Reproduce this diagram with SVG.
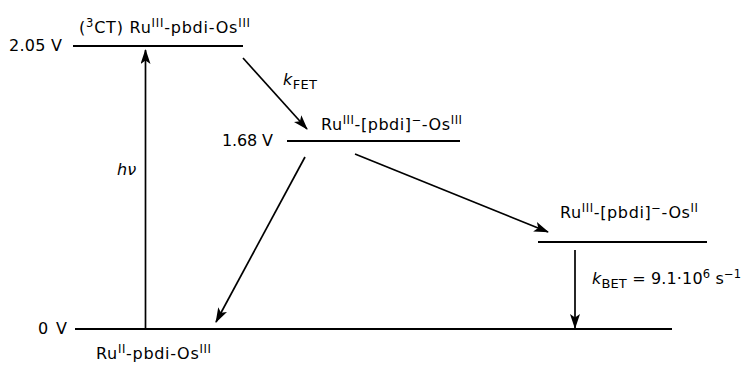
<svg xmlns="http://www.w3.org/2000/svg" width="745" height="368" viewBox="0 0 745 368">
<style>
.t{font-family:"DejaVu Sans","Liberation Sans",sans-serif;font-size:16px;fill:#000}
.s{font-size:11.5px}
.b{font-size:13px}
.i{font-style:italic}
.lv{stroke:#000;stroke-width:2;fill:none}
.ar{stroke:#000;stroke-width:1.7;fill:none;marker-end:url(#ah)}
</style>
<defs>
<marker id="ah" viewBox="0 0 15 10" refX="14" refY="5" markerWidth="15" markerHeight="10" markerUnits="userSpaceOnUse" orient="auto">
<path d="M0,0 L15,5 L0,10 L3.5,5 Z" fill="#000"/>
</marker>
</defs>
<g id="level-ct">
<line class="lv" x1="73" y1="46" x2="243" y2="46"/>
<text class="t" x="9" y="51" textLength="53" lengthAdjust="spacing">2.05 V</text>
<text class="t" x="79" y="33" textLength="171" lengthAdjust="spacing">(<tspan class="s" dy="-6">3</tspan><tspan dy="6">CT) Ru</tspan><tspan class="s" dy="-6">III</tspan><tspan dy="6">-pbdi-Os</tspan><tspan class="s" dy="-6">III</tspan></text>
</g>
<g id="level-mid">
<line class="lv" x1="287" y1="141" x2="460" y2="141"/>
<text class="t" x="222" y="146" textLength="51" lengthAdjust="spacing">1.68 V</text>
<text class="t" x="321" y="130" textLength="141" lengthAdjust="spacing">Ru<tspan class="s" dy="-6">III</tspan><tspan dy="6">-[pbdi]</tspan><tspan class="s" dy="-6">−</tspan><tspan dy="6">-Os</tspan><tspan class="s" dy="-6">III</tspan></text>
</g>
<g id="level-cs">
<line class="lv" x1="538" y1="242" x2="707" y2="242"/>
<text class="t" x="560" y="218" textLength="138" lengthAdjust="spacing">Ru<tspan class="s" dy="-6">III</tspan><tspan dy="6">-[pbdi]</tspan><tspan class="s" dy="-6">−</tspan><tspan dy="6">-Os</tspan><tspan class="s" dy="-6">II</tspan></text>
</g>
<g id="level-ground">
<line class="lv" x1="75" y1="329" x2="672" y2="329"/>
<text class="t" x="38" y="334" textLength="29" lengthAdjust="spacing">0 V</text>
<text class="t" x="96" y="359" textLength="115" lengthAdjust="spacing">Ru<tspan class="s" dy="-6">II</tspan><tspan dy="6">-pbdi-Os</tspan><tspan class="s" dy="-6">III</tspan></text>
</g>
<g id="connectors">
<line class="ar" x1="145.5" y1="329" x2="145.5" y2="50"/>
<line class="ar" x1="243" y1="58" x2="307" y2="129"/>
<line class="ar" x1="305" y1="157" x2="216" y2="322"/>
<line class="ar" x1="355" y1="154" x2="548" y2="232"/>
<line class="ar" x1="575" y1="250" x2="575" y2="328"/>
<text class="t i" x="117" y="175">hν</text>
<text class="t" x="283" y="85" textLength="34" lengthAdjust="spacing"><tspan class="i">k</tspan><tspan class="b" dy="4">FET</tspan></text>
<text class="t" x="592" y="284" textLength="149" lengthAdjust="spacing"><tspan class="i">k</tspan><tspan class="b" dy="4">BET</tspan><tspan dy="-4"> = 9.1·10</tspan><tspan class="s" dy="-6">6</tspan><tspan dy="6"> s</tspan><tspan class="s" dy="-6">−1</tspan></text>
</g>
</svg>
